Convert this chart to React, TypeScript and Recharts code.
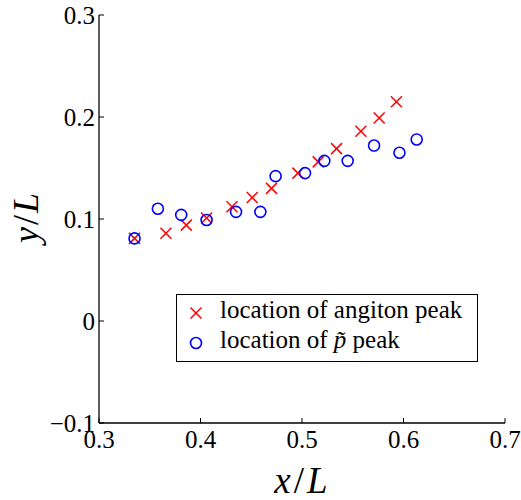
import React from "react";
import { ScatterChart, Scatter, XAxis, YAxis, Legend, Label } from "recharts";

const angitonX = [0.335, 0.366, 0.386, 0.406, 0.431, 0.451, 0.470, 0.496, 0.516, 0.534, 0.558, 0.576, 0.593];
const angitonY = [0.081, 0.086, 0.094, 0.101, 0.112, 0.121, 0.130, 0.145, 0.156, 0.169, 0.186, 0.199, 0.215];
const pTildeX = [0.335, 0.358, 0.381, 0.406, 0.435, 0.459, 0.474, 0.503, 0.522, 0.545, 0.571, 0.596, 0.613];
const pTildeY = [0.081, 0.110, 0.104, 0.099, 0.107, 0.107, 0.142, 0.145, 0.157, 0.157, 0.172, 0.165, 0.178];

const xTicks = [0.3, 0.4, 0.5, 0.6, 0.7];
const yTicks = [-0.1, 0, 0.1, 0.2, 0.3];

const angiton = angitonX.map((x, i) => ({ x, y: angitonY[i] }));
const pTilde = pTildeX.map((x, i) => ({ x, y: pTildeY[i] }));

const FONT = "Liberation Serif, DejaVu Serif, serif";
const RED = "#ff0000";
const BLUE = "#0000ff";

const fmt = (v: number) => (v === 0 ? "0" : v.toFixed(1).replace("-", "\u2212"));
const blank = () => "";

const Cross = ({ cx, cy }: any) => (
  <g stroke={RED} strokeWidth={1.5}>
    <line x1={cx - 5.5} y1={cy - 5.5} x2={cx + 5.5} y2={cy + 5.5} />
    <line x1={cx - 5.5} y1={cy + 5.5} x2={cx + 5.5} y2={cy - 5.5} />
  </g>
);

const Ring = ({ cx, cy }: any) => (
  <circle cx={cx} cy={cy} r={5.5} fill="none" stroke={BLUE} strokeWidth={1.6} />
);

const LegendBox = () => (
  <div
    style={{
      width: 302,
      height: 68,
      boxSizing: "border-box",
      border: "1px solid #000",
      background: "#fff",
      position: "relative"
    }}
  >
    <svg width={302} height={68} style={{ position: "absolute", left: -1, top: -1, fontFamily: FONT }}>
      <Cross cx={20} cy={19} />
      <Ring cx={20} cy={49} />
      <text x={44} y={24} style={{ fontFamily: FONT, fontSize: 25 }}>
        location of angiton peak
      </text>
      <text x={44} y={54} style={{ fontFamily: FONT, fontSize: 25 }}>
        location of <tspan fontStyle="italic">p&#x303;</tspan> peak
      </text>
    </svg>
  </div>
);

const XTitle = () => (
  <text x={301} y={493} textAnchor="middle" style={{ fontFamily: FONT, fontSize: 37 }} fill="#000">
    <tspan fontStyle="italic">x</tspan>
    <tspan dx={3}>/</tspan>
    <tspan dx={3} fontStyle="italic">L</tspan>
  </text>
);

const YTitle = () => (
  <text
    x={38}
    y={218}
    transform="rotate(-90, 38, 218)"
    textAnchor="middle"
    style={{ fontFamily: FONT, fontSize: 36 }}
    fill="#000"
  >
    <tspan fontStyle="italic">y</tspan>
    <tspan dx={2}>/</tspan>
    <tspan dx={2} fontStyle="italic">L</tspan>
  </text>
);

const tickStyle = { fontSize: 25, fill: "#000", fontFamily: FONT, style: { fontFamily: FONT } };
const axisLine = { stroke: "#000", strokeWidth: 1.3 };
const tickLine = { stroke: "#000", strokeWidth: 1 };

export default function App() {
  return (
    <div style={{ position: "absolute", left: 0, top: 0, background: "#fff", fontFamily: FONT }}>
      <ScatterChart
        width={521}
        height={500}
        margin={{ top: 15, right: 16, bottom: 0, left: 0 }}
        style={{ fontFamily: FONT }}
      >
        <XAxis
          xAxisId="bottom"
          type="number"
          dataKey="x"
          domain={[0.3, 0.7]}
          ticks={xTicks}
          interval={0}
          allowDataOverflow
          height={77}
          tickSize={-5}
          tickMargin={12.5}
          tick={tickStyle}
          tickFormatter={fmt}
          axisLine={axisLine}
          tickLine={tickLine}
        >
          <Label content={() => <XTitle />} />
        </XAxis>
        <XAxis
          xAxisId="top"
          orientation="top"
          type="number"
          dataKey="x"
          domain={[0.3, 0.7]}
          ticks={xTicks}
          interval={0}
          allowDataOverflow
          height={0}
          tickSize={-5}
          tickFormatter={blank}
          axisLine={axisLine}
          tickLine={tickLine}
        />
        <YAxis
          yAxisId="left"
          type="number"
          dataKey="y"
          domain={[-0.1, 0.3]}
          ticks={yTicks}
          interval={0}
          allowDataOverflow
          width={99}
          tickSize={-5}
          tickMargin={9}
          tick={tickStyle}
          tickFormatter={fmt}
          axisLine={axisLine}
          tickLine={tickLine}
        >
          <Label content={() => <YTitle />} />
        </YAxis>
        <YAxis
          yAxisId="right"
          orientation="right"
          type="number"
          dataKey="y"
          domain={[-0.1, 0.3]}
          ticks={yTicks}
          interval={0}
          allowDataOverflow
          width={0}
          tickSize={-5}
          tickFormatter={blank}
          axisLine={axisLine}
          tickLine={tickLine}
        />
        <Legend
          layout="vertical"
          align="center"
          verticalAlign="middle"
          content={() => <LegendBox />}
          wrapperStyle={{ left: 176, top: 294, width: 302, height: 68 }}
        />
        <Scatter
          name="location of angiton peak"
          data={angiton}
          xAxisId="bottom"
          yAxisId="left"
          shape={Cross}
          isAnimationActive={false}
        />
        <Scatter
          name="location of p peak"
          data={pTilde}
          xAxisId="bottom"
          yAxisId="left"
          shape={Ring}
          isAnimationActive={false}
        />
      </ScatterChart>
    </div>
  );
}
